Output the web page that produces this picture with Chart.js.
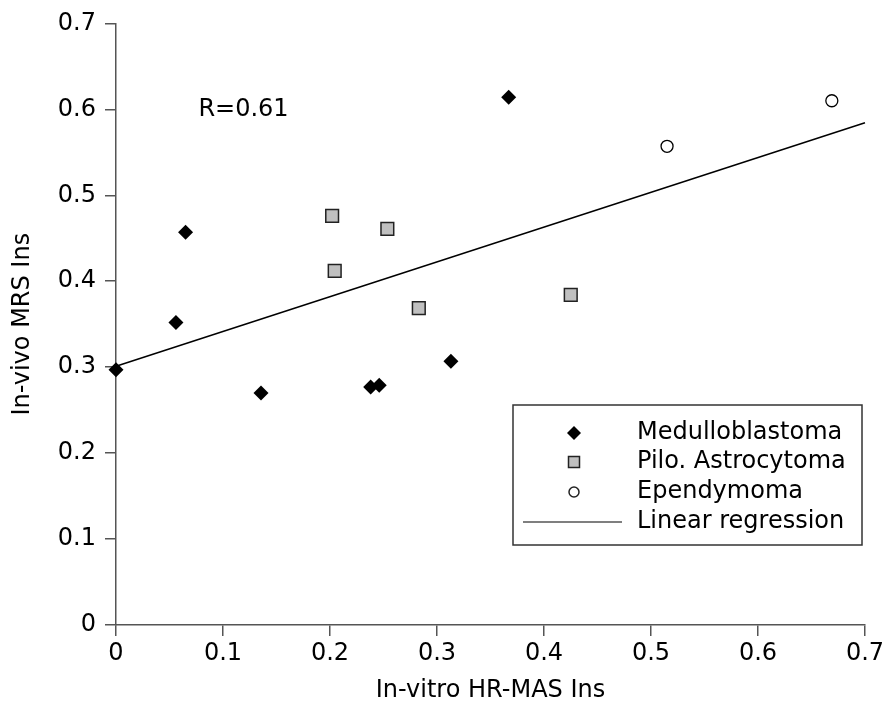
<!DOCTYPE html>
<html>
<head>
<meta charset="utf-8">
<script src="https://cdn.jsdelivr.net/npm/chart.js@4/dist/chart.umd.min.js"></script>
<style>
  html, body { margin: 0; padding: 0; background: #fff; }
  #wrap { width: 888px; height: 709px; position: relative; }
</style>
</head>
<body>
<div id="wrap"><canvas id="scatterChart"></canvas></div>
<script>
// values
const medX = [0, 0.056, 0.065, 0.1355, 0.238, 0.246, 0.313, 0.367];
const medY = [0.297, 0.352, 0.457, 0.270, 0.277, 0.279, 0.307, 0.614];
const piloX = [0.202, 0.2044, 0.2536, 0.283, 0.425];
const piloY = [0.476, 0.412, 0.461, 0.3686, 0.384];
const epenX = [0.515, 0.669];
const epenY = [0.557, 0.610];
const regX = [0, 0.7];
const regY = [0.301, 0.5845];
const xTickLabels = ['0', '0.1', '0.2', '0.3', '0.4', '0.5', '0.6', '0.7'];
const yTickLabels = ['0', '0.1', '0.2', '0.3', '0.4', '0.5', '0.6', '0.7'];
const legendLabels = ['Medulloblastoma', 'Pilo. Astrocytoma', 'Ependymoma', 'Linear regression'];
const rLabel = 'R=0.61';

const FONT = 'DejaVu Sans';
const AXIS = '#555';

const toPoints = (xs, ys) => xs.map((x, i) => ({ x, y: ys[i] }));

// legend box + R label drawn on the canvas
const annotations = {
  id: 'annotations',
  afterDraw(chart) {
    const { ctx, chartArea: a, scales } = chart;
    ctx.save();
    ctx.font = `24px "${FONT}"`;
    ctx.fillStyle = '#000';
    ctx.textBaseline = 'middle';
    ctx.textAlign = 'left';
    ctx.fillText(rLabel, scales.x.getPixelForValue(0.077), scales.y.getPixelForValue(0.6));

    // legend box
    const bx = a.right - 352, by = a.bottom - 220, bw = 349, bh = 140;
    ctx.strokeStyle = '#333';
    ctx.lineWidth = 1.5;
    ctx.strokeRect(bx, by, bw, bh);

    const mx = bx + 61, tx = bx + 124;
    const rows = [by + 28, by + 57, by + 87, by + 117];

    // diamond
    ctx.fillStyle = '#000';
    ctx.beginPath();
    ctx.moveTo(mx, rows[0] - 7); ctx.lineTo(mx + 7, rows[0]);
    ctx.lineTo(mx, rows[0] + 7); ctx.lineTo(mx - 7, rows[0]);
    ctx.closePath(); ctx.fill();
    // square
    ctx.fillStyle = '#c0c0c0';
    ctx.strokeStyle = '#222';
    ctx.lineWidth = 1.5;
    ctx.fillRect(mx - 5.5, rows[1] - 5.5, 11, 11);
    ctx.strokeRect(mx - 5.5, rows[1] - 5.5, 11, 11);
    // circle
    ctx.fillStyle = '#fff';
    ctx.beginPath();
    ctx.arc(mx, rows[2], 5, 0, Math.PI * 2);
    ctx.fill(); ctx.stroke();
    // line
    ctx.strokeStyle = '#000';
    ctx.lineWidth = 1.2;
    ctx.beginPath();
    ctx.moveTo(bx + 10, rows[3]); ctx.lineTo(bx + 109, rows[3]);
    ctx.stroke();

    ctx.fillStyle = '#000';
    legendLabels.forEach((t, i) => ctx.fillText(t, tx, rows[i]));
    ctx.restore();
  }
};

const ctx = document.getElementById('scatterChart').getContext('2d');
new Chart(ctx, {
  type: 'scatter',
  data: {
    datasets: [
      {
        label: legendLabels[0],
        data: toPoints(medX, medY),
        pointStyle: 'rectRot',
        pointRadius: 7.5,
        backgroundColor: '#000',
        borderColor: '#000',
        borderWidth: 0,
        clip: false,
        order: 1
      },
      {
        label: legendLabels[1],
        data: toPoints(piloX, piloY),
        pointStyle: 'rect',
        pointRadius: 9,
        backgroundColor: '#c0c0c0',
        borderColor: '#222',
        borderWidth: 1.5,
        clip: false,
        order: 1
      },
      {
        label: legendLabels[2],
        data: toPoints(epenX, epenY),
        pointStyle: 'circle',
        pointRadius: 6,
        backgroundColor: '#fff',
        borderColor: '#000',
        borderWidth: 1.3,
        clip: false,
        order: 1
      },
      {
        type: 'line',
        label: legendLabels[3],
        data: toPoints(regX, regY),
        borderColor: '#000',
        borderWidth: 1.5,
        pointRadius: 0,
        fill: false,
        clip: false,
        order: 5
      }
    ]
  },
  options: {
    responsive: true,
    maintainAspectRatio: false,
    animation: false,
    events: [],
    layout: { padding: { left: 0, top: 23, right: 23, bottom: 0 } },
    plugins: {
      legend: { display: false },
      tooltip: { enabled: false }
    },
    scales: {
      x: {
        type: 'linear',
        min: 0, max: 0.7,
        afterFit: s => { s.height = 84; },
        border: { color: AXIS, width: 1.5 },
        grid: { drawOnChartArea: false, drawTicks: true, tickLength: 11, color: AXIS, lineWidth: 1.5 },
        ticks: {
          stepSize: 0.1,
          padding: 3,
          color: '#000',
          font: { family: FONT, size: 24 },
          maxRotation: 0,
          callback: (v, i) => xTickLabels[i]
        },
        title: {
          display: true,
          text: 'In-vitro HR-MAS Ins',
          color: '#000',
          font: { family: FONT, size: 24 },
          padding: { top: 0, bottom: 4 }
        }
      },
      y: {
        type: 'linear',
        min: 0, max: 0.7,
        afterFit: s => { s.width = 116; },
        border: { color: AXIS, width: 1.5 },
        grid: { drawOnChartArea: false, drawTicks: true, tickLength: 11, color: AXIS, lineWidth: 1.5 },
        ticks: {
          stepSize: 0.1,
          padding: 9,
          color: '#000',
          font: { family: FONT, size: 24 },
          callback: (v, i) => yTickLabels[i]
        },
        title: {
          display: true,
          text: 'In-vivo MRS Ins',
          color: '#000',
          font: { family: FONT, size: 24 },
          padding: { top: 8, bottom: 0 }
        }
      }
    }
  },
  plugins: [annotations]
});
</script>
</body>
</html>
